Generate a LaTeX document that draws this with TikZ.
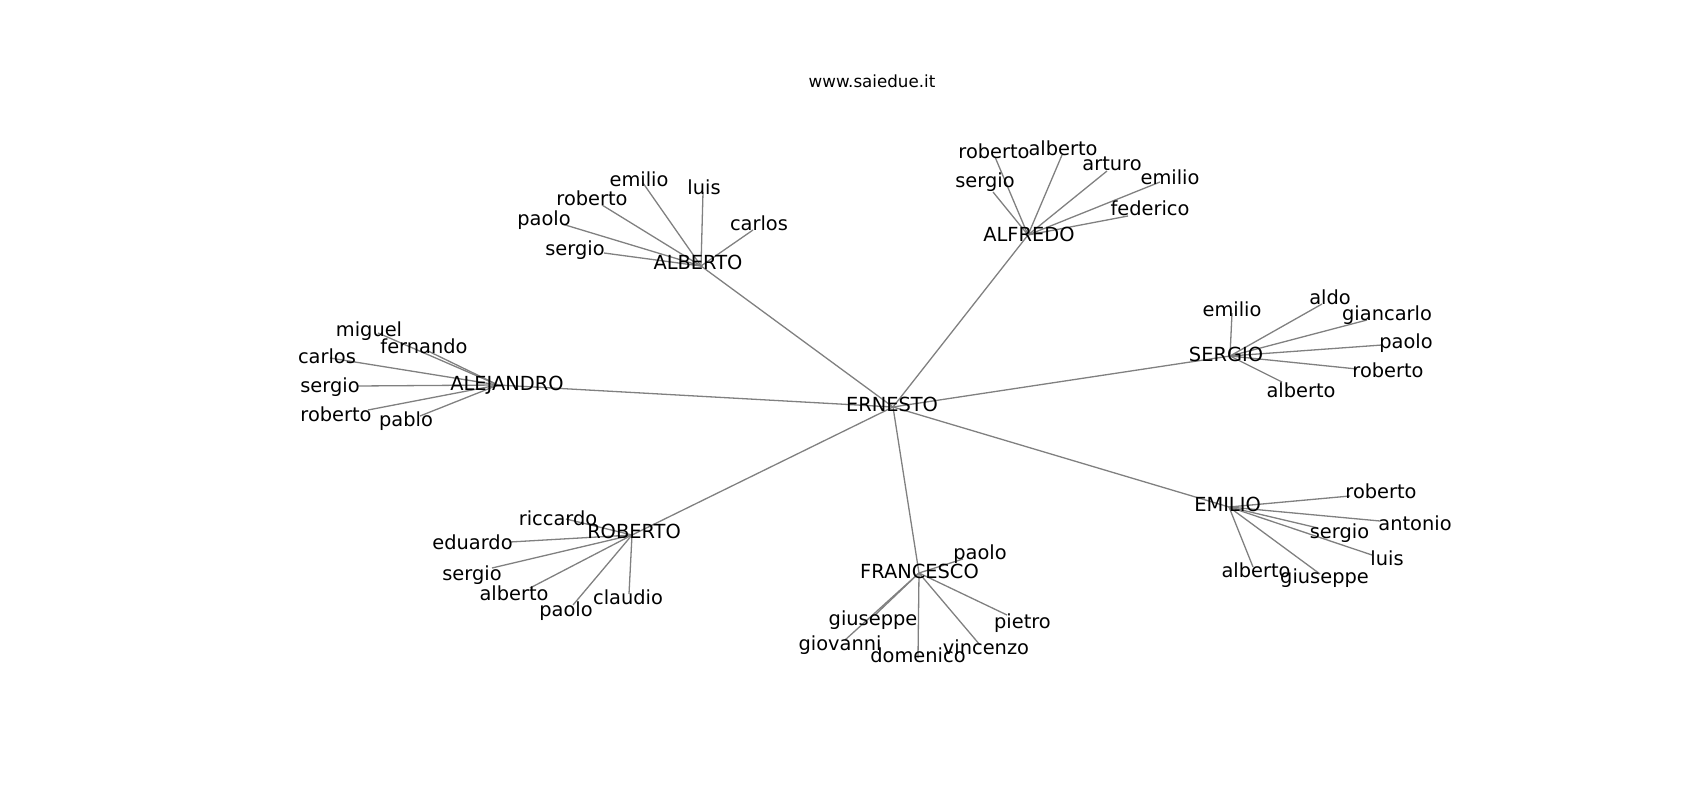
\documentclass[tikz,border=0pt]{standalone}
\usepackage{fontspec}
\setmainfont{DejaVu Sans}
\tikzset{
  edge/.style={draw=gray, line width=1.3pt},
  lbl/.style={anchor=base, inner sep=0pt, font=\fontsize{19.4}{23}\selectfont},
  ttl/.style={anchor=base, inner sep=0pt, font=\fontsize{16.7}{20}\selectfont},
}
\begin{document}
\begin{tikzpicture}[x=1pt, y=-1pt]
\useasboundingbox (0,0) rectangle (1700,800);

\node[ttl] (title) at (872,88) {www.saiedue.it};

% hubs
\coordinate (ernesto) at (893,407);
\coordinate (alberto) at (701,266);
\coordinate (alfredo) at (1028,235);
\coordinate (alejandro) at (498,385);
\coordinate (sergio) at (1230,356);
\coordinate (emilio) at (1229,507);
\coordinate (roberto) at (632,535);
\coordinate (francesco) at (919,573);

% ALBERTO
\coordinate (alb-emilio) at (643,183);
\coordinate (alb-luis) at (703,192);
\coordinate (alb-roberto) at (602,205);
\coordinate (alb-paolo) at (562,224);
\coordinate (alb-sergio) at (604,253);
\coordinate (alb-carlos) at (753,230);

% ALFREDO
\coordinate (alf-roberto) at (995,157);
\coordinate (alf-alberto) at (1062,155);
\coordinate (alf-arturo) at (1107,171);
\coordinate (alf-emilio) at (1160,182);
\coordinate (alf-sergio) at (993,192);
\coordinate (alf-federico) at (1128,216);

% ALEJANDRO
\coordinate (ale-miguel) at (378,333);
\coordinate (ale-fernando) at (428,351);
\coordinate (ale-carlos) at (330,358);
\coordinate (ale-sergio) at (357,386);
\coordinate (ale-roberto) at (368,410);
\coordinate (ale-pablo) at (420,416);

% SERGIO
\coordinate (ser-emilio) at (1232,313);
\coordinate (ser-aldo) at (1322,304);
\coordinate (ser-giancarlo) at (1367,320);
\coordinate (ser-paolo) at (1382,345);
\coordinate (ser-roberto) at (1357,369);
\coordinate (ser-alberto) at (1282,382);

% EMILIO
\coordinate (emi-roberto) at (1350,496);
\coordinate (emi-antonio) at (1380,521);
\coordinate (emi-sergio) at (1318,528);
\coordinate (emi-luis) at (1372,555);
\coordinate (emi-giuseppe) at (1320,574);
\coordinate (emi-alberto) at (1253,567);

% ROBERTO
\coordinate (rob-riccardo) at (566,519);
\coordinate (rob-eduardo) at (510,542);
\coordinate (rob-sergio) at (492,568);
\coordinate (rob-alberto) at (530,588);
\coordinate (rob-paolo) at (573,605);
\coordinate (rob-claudio) at (629,594);

% FRANCESCO
\coordinate (fra-paolo) at (963,559);
\coordinate (fra-giuseppe) at (875,615);
\coordinate (fra-giovanni) at (845,640);
\coordinate (fra-domenico) at (918,658);
\coordinate (fra-vincenzo) at (980,645);
\coordinate (fra-pietro) at (1007,615);

% edges
\draw[edge] (ernesto) -- (alberto);
\draw[edge] (ernesto) -- (alfredo);
\draw[edge] (ernesto) -- (alejandro);
\draw[edge] (ernesto) -- (sergio);
\draw[edge] (ernesto) -- (emilio);
\draw[edge] (ernesto) -- (roberto);
\draw[edge] (ernesto) -- (francesco);

\draw[edge] (alberto) -- (alb-emilio);
\draw[edge] (alberto) -- (alb-luis);
\draw[edge] (alberto) -- (alb-roberto);
\draw[edge] (alberto) -- (alb-paolo);
\draw[edge] (alberto) -- (alb-sergio);
\draw[edge] (alberto) -- (alb-carlos);

\draw[edge] (alfredo) -- (alf-roberto);
\draw[edge] (alfredo) -- (alf-alberto);
\draw[edge] (alfredo) -- (alf-arturo);
\draw[edge] (alfredo) -- (alf-emilio);
\draw[edge] (alfredo) -- (alf-sergio);
\draw[edge] (alfredo) -- (alf-federico);

\draw[edge] (alejandro) -- (ale-miguel);
\draw[edge] (alejandro) -- (ale-fernando);
\draw[edge] (alejandro) -- (ale-carlos);
\draw[edge] (alejandro) -- (ale-sergio);
\draw[edge] (alejandro) -- (ale-roberto);
\draw[edge] (alejandro) -- (ale-pablo);

\draw[edge] (sergio) -- (ser-emilio);
\draw[edge] (sergio) -- (ser-aldo);
\draw[edge] (sergio) -- (ser-giancarlo);
\draw[edge] (sergio) -- (ser-paolo);
\draw[edge] (sergio) -- (ser-roberto);
\draw[edge] (sergio) -- (ser-alberto);

\draw[edge] (emilio) -- (emi-roberto);
\draw[edge] (emilio) -- (emi-antonio);
\draw[edge] (emilio) -- (emi-sergio);
\draw[edge] (emilio) -- (emi-luis);
\draw[edge] (emilio) -- (emi-giuseppe);
\draw[edge] (emilio) -- (emi-alberto);

\draw[edge] (roberto) -- (rob-riccardo);
\draw[edge] (roberto) -- (rob-eduardo);
\draw[edge] (roberto) -- (rob-sergio);
\draw[edge] (roberto) -- (rob-alberto);
\draw[edge] (roberto) -- (rob-paolo);
\draw[edge] (roberto) -- (rob-claudio);

\draw[edge] (francesco) -- (fra-paolo);
\draw[edge] (francesco) -- (fra-giuseppe);
\draw[edge] (francesco) -- (fra-giovanni);
\draw[edge] (francesco) -- (fra-domenico);
\draw[edge] (francesco) -- (fra-vincenzo);
\draw[edge] (francesco) -- (fra-pietro);

% labels
\node[lbl] (ernesto-t) at (892,411.5) {ERNESTO};
\node[lbl] (alberto-t) at (698,269.3) {ALBERTO};
\node[lbl] (alfredo-t) at (1029,241) {ALFREDO};
\node[lbl] (alejandro-t) at (507,390.7) {ALEJANDRO};
\node[lbl] (sergio-t) at (1226,361.7) {SERGIO};
\node[lbl] (emilio-t) at (1227.5,511.7) {EMILIO};
\node[lbl] (roberto-t) at (634,538.3) {ROBERTO};
\node[lbl] (francesco-t) at (919.5,578.3) {FRANCESCO};

\node[lbl] (alb-emilio-t) at (639,186) {emilio};
\node[lbl] (alb-luis-t) at (704,194) {luis};
\node[lbl] (alb-roberto-t) at (592,205) {roberto};
\node[lbl] (alb-paolo-t) at (544,225) {paolo};
\node[lbl] (alb-sergio-t) at (575,255) {sergio};
\node[lbl] (alb-carlos-t) at (759,230) {carlos};

\node[lbl] (alf-roberto-t) at (994,158.3) {roberto};
\node[lbl] (alf-alberto-t) at (1063,155) {alberto};
\node[lbl] (alf-arturo-t) at (1112,170.7) {arturo};
\node[lbl] (alf-emilio-t) at (1170,184) {emilio};
\node[lbl] (alf-sergio-t) at (985,187.7) {sergio};
\node[lbl] (alf-federico-t) at (1150,215) {federico};

\node[lbl] (ale-miguel-t) at (369,336) {miguel};
\node[lbl] (ale-fernando-t) at (424,353.3) {fernando};
\node[lbl] (ale-carlos-t) at (327,363.3) {carlos};
\node[lbl] (ale-sergio-t) at (330,392.3) {sergio};
\node[lbl] (ale-roberto-t) at (336,421.7) {roberto};
\node[lbl] (ale-pablo-t) at (406,426.7) {pablo};

\node[lbl] (ser-emilio-t) at (1232,316) {emilio};
\node[lbl] (ser-aldo-t) at (1330,304) {aldo};
\node[lbl] (ser-giancarlo-t) at (1387,320) {giancarlo};
\node[lbl] (ser-paolo-t) at (1406,348.3) {paolo};
\node[lbl] (ser-roberto-t) at (1388,377.3) {roberto};
\node[lbl] (ser-alberto-t) at (1301,397.3) {alberto};

\node[lbl] (emi-roberto-t) at (1381,498.3) {roberto};
\node[lbl] (emi-antonio-t) at (1415,530) {antonio};
\node[lbl] (emi-sergio-t) at (1339.5,538.3) {sergio};
\node[lbl] (emi-luis-t) at (1387,565) {luis};
\node[lbl] (emi-giuseppe-t) at (1324.5,583.3) {giuseppe};
\node[lbl] (emi-alberto-t) at (1256,577.3) {alberto};

\node[lbl] (rob-riccardo-t) at (558,525) {riccardo};
\node[lbl] (rob-eduardo-t) at (472.5,549.3) {eduardo};
\node[lbl] (rob-sergio-t) at (472,580) {sergio};
\node[lbl] (rob-alberto-t) at (514,600.7) {alberto};
\node[lbl] (rob-paolo-t) at (566,616.7) {paolo};
\node[lbl] (rob-claudio-t) at (628,604) {claudio};

\node[lbl] (fra-paolo-t) at (980,559.3) {paolo};
\node[lbl] (fra-giuseppe-t) at (873,625) {giuseppe};
\node[lbl] (fra-giovanni-t) at (840,650.7) {giovanni};
\node[lbl] (fra-domenico-t) at (918,662) {domenico};
\node[lbl] (fra-vincenzo-t) at (986,654) {vincenzo};
\node[lbl] (fra-pietro-t) at (1022.5,628.3) {pietro};

\end{tikzpicture}
\end{document}
